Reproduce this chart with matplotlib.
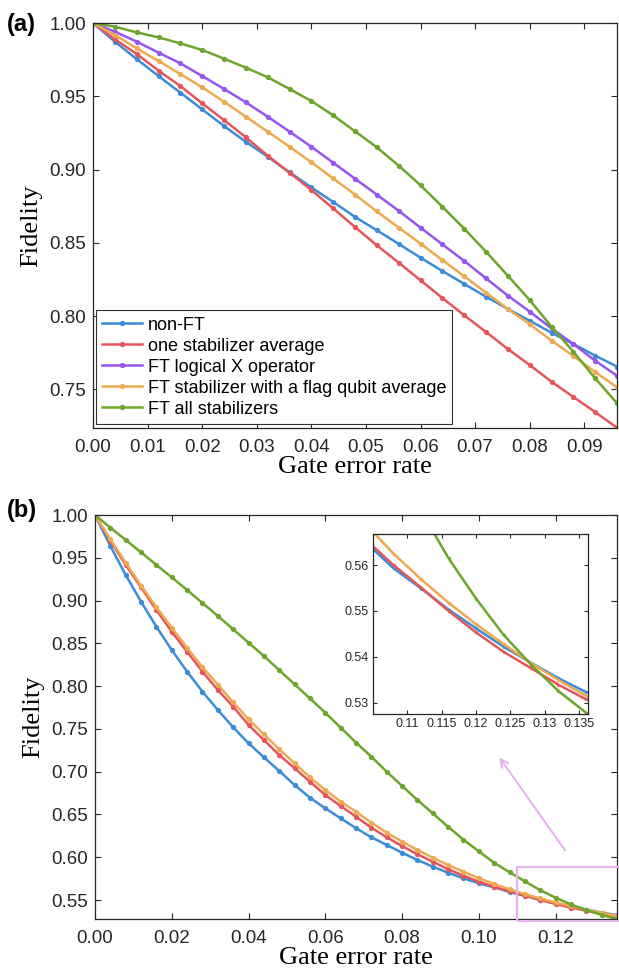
import numpy as np
import matplotlib
matplotlib.use('Agg')
import matplotlib.pyplot as plt
from matplotlib.patches import Rectangle

plt.rcParams['font.family'] = ['Liberation Sans', 'DejaVu Sans']

# данные панели (a)
rate_a = [0.000, 0.004, 0.008, 0.012, 0.016, 0.020, 0.024, 0.028, 0.032, 0.036,
          0.040, 0.044, 0.048, 0.052, 0.056, 0.060, 0.064, 0.068, 0.072, 0.076,
          0.080, 0.084, 0.088, 0.092, 0.096]
nonft_a = [1.0, .9873, .9754, .9638, .9525, .9411, .9297, .919, .9088, .8981, .8879,
           .8779, .8677, .8586, .8493, .8399, .8308, .822, .8133, .8049, .7969, .7887,
           .781, .7731, .7656]
onestab_a = [1.0, .9889, .9789, .9675, .957, .9452, .9338, .922, .9095, .8979, .8861,
             .8735, .8608, .8483, .8365, .8245, .8124, .8006, .7892, .7776, .7667,
             .7553, .7449, .7346, .7239]
logx_a = [1.0, .9941, .9873, .9798, .9725, .9638, .955, .9459, .9361, .9259, .9156,
          .9047, .8938, .8829, .8719, .8604, .849, .8377, .8258, .814, .8031, .7917,
          .781, .7696, .7594]
flag_a = [1.0, .9918, .9827, .9741, .9652, .9561, .9463, .9361, .9259, .9156, .905,
          .894, .8829, .8715, .8604, .8495, .8383, .8272, .816, .8049, .7945, .7833,
          .7729, .7619, .7515]
allstab_a = [1.0, .9975, .9936, .9902, .9861, .9816, .9757, .9695, .963, .955, .9468,
             .937, .9261, .9152, .9027, .8893, .8747, .8597, .844, .8276, .811, .7928,
             .7758, .7576, .7406]

# данные панели (b)
rate_b = [0.000, 0.004, 0.008, 0.012, 0.016, 0.020, 0.024, 0.028, 0.032, 0.036,
          0.040, 0.044, 0.048, 0.052, 0.056, 0.060, 0.064, 0.068, 0.072, 0.076,
          0.080, 0.084, 0.088, 0.092, 0.096, 0.100, 0.104, 0.108, 0.112, 0.116,
          0.120, 0.124, 0.128, 0.132, 0.136]
nonft_b = [1.0, .9638, .9299, .8987, .8694, .8422, .8169, .7935, .7721, .7519, .7332,
           .7168, .7008, .6844, .6696, .6572, .6455, .634, .6233, .6143, .6053, .5968,
           .589, .5819, .5754, .5695, .5649, .5593, .5549, .5503, .5462, .5422, .5387,
           .5353, .5323]
onestab_b = [1.0, .970, .9416, .9155, .889, .8636, .8402, .8169, .7955, .776, .7546,
             .737, .7195, .704, .6883, .6727, .6599, .6474, .6345, .6233, .6131, .6034,
             .5948, .5859, .5784, .5714, .5655, .560, .5551, .55, .5453, .5411, .5375,
             .5339, .5307]
flag_b = [1.0, .9716, .9443, .9174, .8921, .8683, .8449, .822, .8017, .7811, .7612,
          .7437, .7262, .7098, .6934, .6786, .6649, .6532, .6404, .6287, .6182, .6085,
          .5995, .5909, .5831, .5754, .5688, .5625, .5569, .5518, .5471, .5428, .5386,
          .5349, .5315]
allstab_b = [1.0, .9852, .9708, .9564, .9416, .9271, .9123, .8971, .882, .8664, .8508,
             .8352, .8186, .8021, .7856, .769, .7515, .734, .7175, .700, .6833, .6669,
             .6513, .6355, .6205, .6068, .5935, .5825, .5718, .5615, .5527, .5448, .5383,
             .5325, .5278]

labels = ['non-FT', 'one stabilizer average', 'FT logical X operator',
          'FT stabilizer with a flag qubit average', 'FT all stabilizers']
colors = ['#3c8cd7', '#e6555a', '#9655f0', '#eeaa50', '#6ea52d']
pink = '#e8b4f0'
dark = '#262626'
serif = 'Liberation Serif'


def style(ax, size):
    ax.tick_params(direction='in', top=True, right=True, length=4, width=0.8,
                   labelsize=size, colors=dark)
    ax.tick_params(axis='x', pad=8)
    ax.tick_params(axis='y', pad=5)
    for s in ax.spines.values():
        s.set_linewidth(0.9)
        s.set_color(dark)


fig = plt.figure(figsize=(6.19, 9.77), dpi=100)

# панель (a)
ax1 = fig.add_axes([93 / 619, 1 - 428 / 977, 524 / 619, 405 / 977])
series_a = [nonft_a, onestab_a, logx_a, flag_a, allstab_a]
for y, c, lab in zip(series_a, colors, labels):
    ax1.plot(rate_a, y, '-o', color=c, lw=1.8, ms=3.8, mew=0, label=lab)
ax1.set_xlim(0, 0.096)
ax1.set_ylim(0.7237, 1.0)
ax1.set_xticks([0.0, 0.01, 0.02, 0.03, 0.04, 0.05, 0.06, 0.07, 0.08, 0.09])
ax1.set_yticks([0.75, 0.80, 0.85, 0.90, 0.95, 1.00])
ax1.xaxis.set_major_formatter(plt.FormatStrFormatter('%.2f'))
ax1.yaxis.set_major_formatter(plt.FormatStrFormatter('%.2f'))
style(ax1, 13.5)
ax1.set_xlabel('Gate error rate', fontfamily=serif, fontsize=19, labelpad=0)
ax1.set_ylabel('Fidelity', fontfamily=serif, fontsize=19, labelpad=5)
leg = ax1.legend(loc='lower left', bbox_to_anchor=(0.006, 0.01), fontsize=13,
                 fancybox=False, edgecolor='#333333', framealpha=1, borderaxespad=0,
                 handlelength=2.2, handletextpad=0.3, labelspacing=0.22, borderpad=0.35)
leg.get_frame().set_linewidth(0.8)

# панель (b)
ax2 = fig.add_axes([95 / 619, 1 - 919 / 977, 522 / 619, 404 / 977])
series_b = [nonft_b, onestab_b, flag_b, allstab_b]
colors_b = [colors[0], colors[1], colors[3], colors[4]]
for y, c in zip(series_b, colors_b):
    ax2.plot(rate_b, y, '-o', color=c, lw=1.8, ms=3.8, mew=0)
ax2.set_xlim(0, 0.136)
ax2.set_ylim(0.5278, 1.0)
ax2.set_xticks([0.0, 0.02, 0.04, 0.06, 0.08, 0.10, 0.12])
ax2.set_yticks([0.55, 0.60, 0.65, 0.70, 0.75, 0.80, 0.85, 0.90, 0.95, 1.00])
ax2.xaxis.set_major_formatter(plt.FormatStrFormatter('%.2f'))
ax2.yaxis.set_major_formatter(plt.FormatStrFormatter('%.2f'))
style(ax2, 13.5)
ax2.set_xlabel('Gate error rate', fontfamily=serif, fontsize=19, labelpad=0)
ax2.set_ylabel('Fidelity', fontfamily=serif, fontsize=19, labelpad=5)

# рамка и стрелка к врезке
ax2.add_patch(Rectangle((0.11, 0.5255), 0.032, 0.0627, fill=False, edgecolor=pink,
                        lw=1.6, clip_on=False, zorder=5))
ax2.annotate('', xy=(0.1049, 0.7195), xytext=(0.1229, 0.6053),
             arrowprops=dict(arrowstyle='->', color=pink, lw=1.5, mutation_scale=14))

# врезка
axins = fig.add_axes([373 / 619, 1 - 714 / 977, 215 / 619, 180 / 977])
for y, c in zip(series_b, colors_b):
    axins.plot(rate_b, y, '-o', color=c, lw=1.8, ms=2.4, mew=0)
axins.set_xlim(0.105, 0.1363)
axins.set_ylim(0.5275, 0.5668)
axins.set_xticks([0.11, 0.115, 0.12, 0.125, 0.13, 0.135])
axins.set_xticklabels(['0.11', '0.115', '0.12', '0.125', '0.13', '0.135'])
axins.set_yticks([0.53, 0.54, 0.55, 0.56])
axins.set_yticklabels(['0.53', '0.54', '0.55', '0.56'])
style(axins, 9)
axins.tick_params(pad=3, length=3)

fig.text(7 / 619, 1 - 24 / 977, '(a)', fontsize=17, fontweight='bold', va='center', ha='left')
fig.text(7 / 619, 1 - 511 / 977, '(b)', fontsize=17, fontweight='bold', va='center', ha='left')

fig.savefig('out.png', dpi=100)
